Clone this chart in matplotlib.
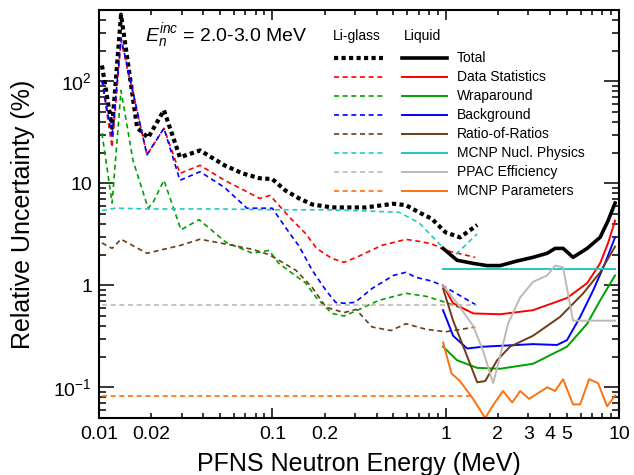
import matplotlib
matplotlib.use('Agg')
import matplotlib.pyplot as plt
from matplotlib.lines import Line2D

plt.rcParams['font.family'] = ['Liberation Sans', 'DejaVu Sans']
plt.rcParams['mathtext.fontset'] = 'custom'
plt.rcParams['mathtext.rm'] = 'Liberation Sans'
plt.rcParams['mathtext.it'] = 'Liberation Sans:italic'
plt.rcParams['mathtext.bf'] = 'Liberation Sans:bold'

# ---- Li-glass detector uncertainties (MeV, %) ----
lig_total_e = [0.0104, 0.0119, 0.0134, 0.0166, 0.0192, 0.0237, 0.0293, 0.0383, 0.053, 0.0673,
               0.0846, 0.1, 0.119, 0.143, 0.17, 0.221, 0.347, 0.5, 0.59, 0.70, 0.83, 1.0, 1.21, 1.52]
lig_total = [143, 35, 450, 35, 28, 52, 18, 21, 15, 12.5,
             11.2, 11.0, 8.5, 7.1, 6.2, 5.8, 5.8, 6.3, 6.1, 5.2, 4.5, 3.3, 2.95, 3.9]

lig_stat_e = [0.0104, 0.0119, 0.0134, 0.0189, 0.0237, 0.0293, 0.0383, 0.053, 0.0673, 0.0846,
              0.097, 0.109, 0.128, 0.156, 0.18, 0.221, 0.259, 0.31, 0.43, 0.59, 0.70, 0.83, 1.0, 1.48]
lig_stat = [102, 22.5, 252, 19, 34.6, 12.5, 15, 10.7, 8.7, 7.1,
            7.6, 6.1, 4.5, 3.2, 2.3, 1.83, 1.68, 1.9, 2.47, 2.82, 2.7, 2.55, 2.2, 1.88]

lig_wrap_e = [0.0104, 0.0119, 0.0134, 0.0157, 0.0192, 0.0205, 0.0237, 0.0297, 0.0378, 0.054,
              0.0769, 0.0957, 0.109, 0.128, 0.156, 0.18, 0.221, 0.259, 0.31, 0.41, 0.59, 0.771,
              1.0, 1.44]
lig_wrap = [31, 6.4, 81, 16.8, 5.7, 6.5, 10.7, 3.5, 4.4, 2.64,
            2.06, 2.2, 1.64, 1.34, 1.05, 0.75, 0.53, 0.5, 0.57, 0.71, 0.835, 0.78,
            0.68, 0.54]

lig_bkg_e = [0.0104, 0.0119, 0.0134, 0.0189, 0.0237, 0.0293, 0.0383, 0.053, 0.0714, 0.1,
             0.119, 0.143, 0.17, 0.204, 0.232, 0.259, 0.30, 0.376, 0.5, 0.59, 0.67, 0.83,
             0.953, 1.48]
lig_bkg = [102, 28, 265, 19, 34.6, 10.7, 13, 9.1, 5.7, 5.7,
           3.7, 2.4, 1.4, 0.89, 0.68, 0.667, 0.68, 0.93, 1.25, 1.34, 1.2, 1.1,
           1.0, 0.65]

lig_ror_e = [0.0104, 0.0119, 0.0134, 0.0189, 0.0297, 0.0383, 0.0585, 0.0769, 0.0957, 0.109,
             0.137, 0.17, 0.204, 0.259, 0.304, 0.376, 0.484, 0.59, 0.771, 1.0, 1.48]
lig_ror = [2.6, 2.3, 2.83, 2.06, 2.47, 2.83, 2.47, 2.25, 2.0, 1.76,
           1.4, 0.95, 0.61, 0.54, 0.58, 0.39, 0.36, 0.42, 0.37, 0.35, 0.39]

lig_mcnp_e = [0.0104, 0.0124, 0.02, 0.05, 0.1, 0.2, 0.3, 0.538, 0.702, 1.0, 1.1, 1.52]
lig_mcnp = [5.4, 5.7, 5.6, 5.6, 5.5, 5.5, 5.4, 5.2, 4.1, 2.2, 1.88, 3.2]

lig_ppac_e = [0.0104, 1.52]
lig_ppac = [0.637, 0.637]

lig_par_e = [0.0104, 1.44]
lig_par = [0.082, 0.082]

# ---- Liquid scintillator uncertainties (MeV, %) ----
liq_total_e = [0.966, 1.164, 1.44, 1.73, 2.06, 2.58, 3.19, 3.85, 4.28, 4.76, 5.43, 6.55, 7.78, 8.65, 9.49]
liq_total = [2.3, 1.76, 1.64, 1.56, 1.56, 1.73, 1.88, 2.06, 2.3, 2.3, 1.88, 2.3, 2.95, 4.3, 6.4]

liq_stat_e = [0.966, 1.104, 1.44, 2.06, 3.19, 5.01, 6.55, 7.78, 8.65, 9.49]
liq_stat = [1.0, 0.667, 0.53, 0.52, 0.57, 0.75, 1.05, 1.64, 2.6, 4.3]

liq_wrap_e = [0.966, 1.164, 1.52, 2.06, 3.19, 5.01, 6.55, 7.78, 9.49]
liq_wrap = [0.25, 0.184, 0.155, 0.152, 0.17, 0.25, 0.42, 0.71, 1.25]

liq_bkg_e = [0.966, 1.104, 1.33, 1.64, 2.06, 3.19, 4.39, 5.01, 5.97, 7.09, 8.3, 9.49]
liq_bkg = [0.57, 0.32, 0.24, 0.25, 0.255, 0.265, 0.26, 0.29, 0.49, 0.89, 1.64, 2.95]

liq_ror_e = [0.966, 1.104, 1.29, 1.52, 1.69, 1.98, 2.35, 3.19, 4.57, 6.2, 7.78, 9.49]
liq_ror = [0.93, 0.45, 0.23, 0.112, 0.115, 0.184, 0.25, 0.32, 0.49, 0.83, 1.34, 2.4]

liq_mcnp_e = [0.966, 9.49]
liq_mcnp = [1.44, 1.44]

liq_ppac_e = [0.966, 1.164, 1.44, 1.64, 1.88, 2.1, 2.29, 2.69, 3.19, 3.85, 4.28, 4.76, 5.43, 9.49]
liq_ppac = [1.0, 0.667, 0.40, 0.23, 0.11, 0.23, 0.42, 0.76, 1.08, 1.25, 1.56, 1.5, 0.45, 0.45]

liq_par_e = [0.966, 1.08, 1.21, 1.44, 1.69, 1.88, 2.14, 2.42, 2.69, 3.03, 3.85, 4.28, 4.76,
             5.43, 5.97, 6.72, 7.57, 8.54, 9.49]
liq_par = [0.275, 0.137, 0.115, 0.077, 0.05, 0.067, 0.092, 0.071, 0.092, 0.077, 0.1, 0.092, 0.12,
           0.068, 0.068, 0.12, 0.11, 0.065, 0.083]

labels = ['Total', 'Data Statistics', 'Wraparound', 'Background', 'Ratio-of-Ratios',
          'MCNP Nucl. Physics', 'PPAC Efficiency', 'MCNP Parameters']
colors = ['black', '#FF0000', '#00A000', '#0000FF', '#6E3C14', '#20C8C8', '#BEB9B2', '#FF7010']

lig_sets = [(lig_total_e, lig_total), (lig_stat_e, lig_stat), (lig_wrap_e, lig_wrap),
            (lig_bkg_e, lig_bkg), (lig_ror_e, lig_ror), (lig_mcnp_e, lig_mcnp),
            (lig_ppac_e, lig_ppac), (lig_par_e, lig_par)]
liq_sets = [(liq_total_e, liq_total), (liq_stat_e, liq_stat), (liq_wrap_e, liq_wrap),
            (liq_bkg_e, liq_bkg), (liq_ror_e, liq_ror), (liq_mcnp_e, liq_mcnp),
            (liq_ppac_e, liq_ppac), (liq_par_e, liq_par)]

dash_style = (0, (3, 2.2))
dot_style = (0, (1, 0.8))


def lig_kw(i):
    if i == 0:
        return dict(color=colors[i], lw=3.0, ls=dot_style, dash_capstyle='butt')
    return dict(color=colors[i], lw=1.2, ls=dash_style)


def liq_kw(i):
    if i == 0:
        return dict(color=colors[i], lw=2.6, ls='-')
    return dict(color=colors[i], lw=1.4, ls='-')


fig = plt.figure(figsize=(6.34, 4.75), dpi=100)
ax = fig.add_axes([99 / 634, 57 / 475, 520 / 634, 408 / 475])

for i, (e, u) in enumerate(lig_sets):
    ax.plot(e, u, **lig_kw(i))
for i, (e, u) in enumerate(liq_sets):
    ax.plot(e, u, **liq_kw(i))

ax.set_xscale('log')
ax.set_yscale('log')
ax.set_xlim(0.01, 10)
ax.set_ylim(0.05, 500)

# x ticks: decades plus labelled minor ticks
ax.set_xticks([0.01, 0.1, 1, 10])
ax.set_xticklabels(['0.01', '0.1', '1', '10'])
x_minor = [m * d for d in (0.01, 0.1, 1) for m in range(2, 10)]
x_minor_lab = {0.02: '0.02', 0.2: '0.2', 2: '2', 3: '3', 4: '4', 5: '5'}
ax.set_xticks(x_minor, minor=True)
ax.set_xticklabels([x_minor_lab.get(round(v, 6), '') for v in x_minor], minor=True)

ax.set_yticks([0.1, 1, 10, 100])
ax.set_yticklabels([r'$10^{-1}$', '1', '10', r'$10^{2}$'])
y_minor = [m * d for d in (0.01, 0.1, 1, 10, 100) for m in range(2, 10)]
y_minor = [v for v in y_minor if 0.05 <= v <= 500]
ax.set_yticks(y_minor, minor=True)
ax.set_yticklabels([''] * len(y_minor), minor=True)

ax.tick_params(which='both', direction='in', top=True, right=True, labelsize=14, width=1.1)
ax.xaxis.set_tick_params(which='major', length=7.5, pad=6)
ax.xaxis.set_tick_params(which='minor', length=3.8, pad=6)
ax.yaxis.set_tick_params(which='major', length=10.5, pad=5)
ax.yaxis.set_tick_params(which='minor', length=5.0)
for s in ax.spines.values():
    s.set_linewidth(1.5)

ax.set_xlabel('PFNS Neutron Energy (MeV)', fontsize=18, labelpad=6)
ax.set_ylabel('Relative Uncertainty (%)', fontsize=18, labelpad=13)

ax.text(0.088, 0.924, r'$E_{n}^{inc}$ = 2.0-3.0 MeV', transform=ax.transAxes,
        fontsize=14, va='baseline', ha='left')

# two-column legend: Li-glass (dashed) and Liquid (solid)
ax.text(0.496, 0.936, 'Li-glass', transform=ax.transAxes, fontsize=10, ha='center', va='center')
ax.text(0.623, 0.936, 'Liquid', transform=ax.transAxes, fontsize=10, ha='center', va='center')
row0 = 0.882
step = 19 / 408
for i, lab in enumerate(labels):
    yy = row0 - i * step
    ax.add_line(Line2D([0.452, 0.546], [yy, yy], transform=ax.transAxes, **lig_kw(i)))
    ax.add_line(Line2D([0.583, 0.669], [yy, yy], transform=ax.transAxes, **liq_kw(i)))
    ax.text(0.688, yy, lab, transform=ax.transAxes, fontsize=10, ha='left', va='center')

fig.savefig('out.png', dpi=100)
